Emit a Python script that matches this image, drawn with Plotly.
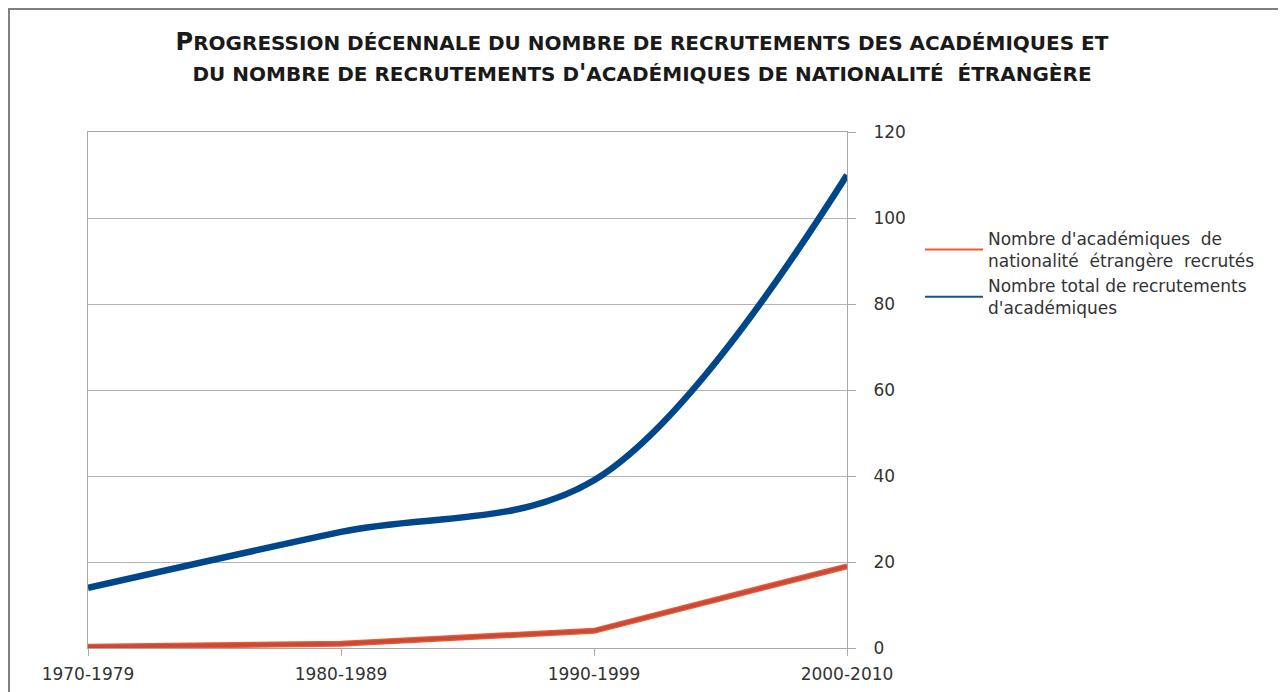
import plotly.graph_objects as go

categories = ["1970-1979", "1980-1989", "1990-1999", "2000-2010"]
foreign_recruits = [0.3, 1, 4, 19]
total_recruits = [14, 27, 39, 110]
y_ticks = [0, 20, 40, 60, 80, 100, 120]

name_foreign = "Nombre d'académiques  de<br>nationalité  étrangère  recrutés"
name_total = "Nombre total de recrutements<br>d'académiques"

# the page adds an 8px body margin, so the figure is sized to fill the rest
W, H = 1278, 684
L, T = 80, 124
PR, PB = 839, 640          # plot right / bottom edge in figure pixels
R, B = W - PR, H - PB
pw, ph = PR - L, PB - T

fig = go.Figure()

fig.add_trace(go.Scatter(x=categories, y=total_recruits, mode="lines",
                         line=dict(color="#00468A", width=6.5, shape="spline", smoothing=1.0),
                         showlegend=False, hoverinfo="skip"))
fig.add_trace(go.Scatter(x=categories, y=foreign_recruits, mode="lines",
                         line=dict(color="#EE5A30", width=6),
                         showlegend=False, hoverinfo="skip"))
fig.add_trace(go.Scatter(x=categories, y=foreign_recruits, mode="lines",
                         line=dict(color="#C74B3A", width=3.5),
                         showlegend=False, hoverinfo="skip"))
fig.add_trace(go.Scatter(x=[None], y=[None], mode="lines", name=name_foreign,
                         line=dict(color="#F35B28", width=2)))
fig.add_trace(go.Scatter(x=[None], y=[None], mode="lines", name=name_total,
                         line=dict(color="#1F4F8F", width=2)))

S = "<span style='font-size:20px'>"
title_text = (
    "<b>P" + S + "ROGRESSION DÉCENNALE DU NOMBRE DE RECRUTEMENTS DES ACADÉMIQUES ET</span></b><br>"
    "<b>" + S + "DU NOMBRE DE RECRUTEMENTS D</span>'" + S + "ACADÉMIQUES DE NATIONALITÉ  ÉTRANGÈRE</span></b>"
)

fig.update_layout(
    width=W, height=H,
    margin=dict(l=L, r=R, t=T, b=B, autoexpand=False),
    paper_bgcolor="white", plot_bgcolor="white",
    font=dict(family="DejaVu Sans, sans-serif", color="#404040", size=17),
    title=dict(text=title_text, x=(642 - 8) / W, xref="container", xanchor="center",
               y=1 - 42 / H, yref="container", yanchor="top",
               font=dict(family="DejaVu Sans, sans-serif", size=24, color="#1a1a1a")),
    xaxis=dict(type="category", range=[0, len(categories) - 1],
               showgrid=False, showline=True, mirror=True, linecolor="#A8A8A8", linewidth=1,
               ticks="outside", ticklen=7, tickcolor="#A8A8A8", ticklabelstandoff=4,
               tickfont=dict(size=17, color="#333333"), fixedrange=True),
    yaxis=dict(side="right", range=[0, 120], tickvals=y_ticks,
               showgrid=True, gridcolor="#B4B4B4", gridwidth=1,
               showline=True, mirror=True, linecolor="#A8A8A8", linewidth=1,
               ticks="outside", ticklen=8, tickcolor="#A8A8A8",
               ticklabelstandoff=14,
               zeroline=False, tickfont=dict(size=17, color="#333333"), fixedrange=True),
    legend=dict(x=(912 - L) / pw, y=(PB - 213) / ph, xanchor="left", yanchor="top",
                font=dict(size=17, color="#333333"), bgcolor="rgba(0,0,0,0)",
                itemwidth=58),
    shapes=[
        dict(type="line", xref="paper", yref="paper",
             x0=(0 - L) / pw, x1=(W + 5 - L) / pw, y0=(PB - 0.5) / ph, y1=(PB - 0.5) / ph,
             line=dict(color="#808080", width=3)),
        dict(type="line", xref="paper", yref="paper",
             x0=(0.5 - L) / pw, x1=(0.5 - L) / pw, y0=(PB + 1) / ph, y1=-(B + 5) / ph,
             line=dict(color="#808080", width=3)),
    ],
)

fig.write_html("out.html")
